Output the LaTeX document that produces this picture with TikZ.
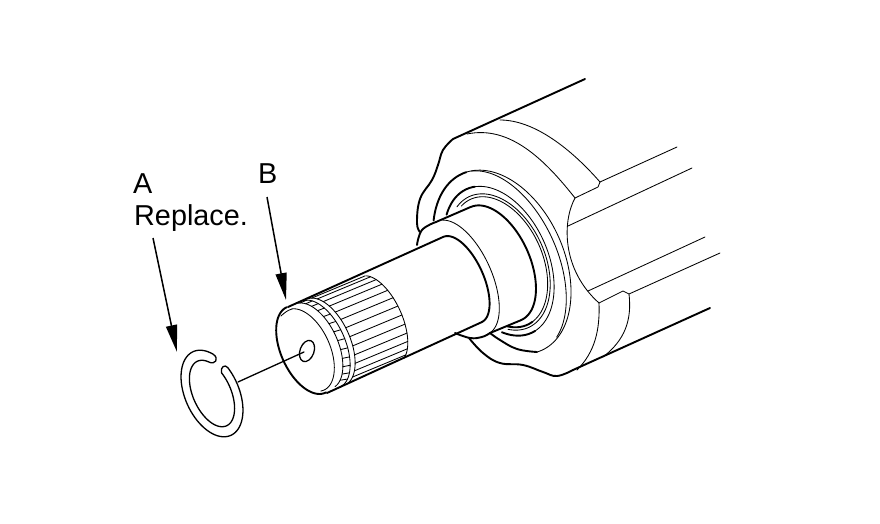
\documentclass[tikz,border=0pt]{standalone}
\usepackage{fontspec}
\setmainfont{Liberation Sans}
\usetikzlibrary{arrows.meta}
\tikzset{
  hv/.style={line width=1.9pt,line cap=round,line join=round},
  md/.style={line width=1.3pt,line cap=round,line join=round},
  tn/.style={line width=0.85pt,line cap=round,line join=round},
  sm/.style={smooth,tension=0.7},
  lbl/.style={inner sep=0pt,anchor=base west,font=\fontsize{28.8}{28.8}\selectfont},
  leader/.style={line width=1.5pt,-{Triangle[length=27pt,width=11pt]}}
}
% \earc{style}{cx}{cy}{a}{b}{t0}{t1}: arc of a tilted ellipse
\newcommand{\earc}[7]{\draw[#1] plot[domain=#6:#7,samples=70,variable=\t,smooth]
  ({#2+(#4)*cos(\t)*0.41+(#5)*sin(\t)*0.91},{#3+(#4)*cos(\t)*0.91-(#5)*sin(\t)*0.41});}
\begin{document}
\begin{tikzpicture}[x=1pt,y=-1pt]
\useasboundingbox[fill=white] (0,0) rectangle (880,524);
% labels
\node[lbl] (la) at (133,193) {A};
\node[lbl] (lr) at (134,225) {Replace.};
\node[lbl] (lb) at (258,183) {B};
\coordinate (afrom) at (153,238);
\coordinate (ato) at (177,352);
\coordinate (bfrom) at (267,197);
\coordinate (bto) at (286,300);
\draw[leader] (afrom) -- (ato);
\draw[leader] (bfrom) -- (bto);
% ring
\earc{md}{212}{393.5}{46}{27}{140}{472}
\earc{md}{212}{393.5}{35.5}{19}{150}{475}
\draw[md] (227.7,367.5) .. controls (225,364) and (220,367) .. (221.5,372.8);
\draw[md] (213.4,354.4) .. controls (219,358) and (216,366) .. (208,361.6);
% centre line
\coordinate (cl1) at (238,382);
\coordinate (cl2) at (304,352);
\draw[md] (cl1) -- (cl2);
\draw[md,rotate around={-20:(307,351)}] (307,351) ellipse[x radius=7,y radius=11];
% spline end
\earc{hv}{306}{350}{47}{25}{180}{362}
\earc{tn}{306}{350}{44}{24}{170}{-8}
\draw[tn] (281,316) .. controls (284,313) and (288,310) .. (292,309);
\earc{tn}{314}{346}{46}{24}{172}{6}
\earc{tn}{321}{344}{47}{24}{175}{2}
\earc{tn}{326}{342}{47}{24}{178}{10}
\earc{tn}{380}{319.5}{47}{22}{165}{15}
\draw[hv] (288,307) -- (443,237);
\draw[hv] (327,393) -- (482,322);
\foreach \t in {168,156,...,18}{
  \draw[tn] ({326+47*cos(\t)*0.41+24*sin(\t)*0.91},{342+47*cos(\t)*0.91-24*sin(\t)*0.41})
    -- ({380+47*cos(\t)*0.41+22*sin(\t)*0.91},{319.5+47*cos(\t)*0.91-22*sin(\t)*0.41});
  \draw[tn] ({314+46*cos(\t)*0.41+24*sin(\t)*0.91},{346+46*cos(\t)*0.91-24*sin(\t)*0.41})
    -- ({321+47*cos(\t)*0.41+24*sin(\t)*0.91},{344+47*cos(\t)*0.91-24*sin(\t)*0.41});
}
% shaft step
\earc{hv}{462.5}{279.5}{46.8}{21}{180}{0}
% collar
\draw[hv] plot[sm] coordinates {(417,245) (422,230) (436,222)};
\earc{tn}{463}{277.5}{61.7}{28.6}{170}{0}
\draw[hv] plot[sm] coordinates {(455,333) (470,338) (482,337) (490,333)};
% thick inner step
\draw[hv] (436,222) -- (470.6,207);
\earc{hv}{496}{263.5}{62}{33.9}{180}{0}
\draw[hv] (490,333) -- (521.4,320);
% rings
\earc{hv}{502}{262}{97}{62}{227}{176}
\earc{tn}{502}{262}{97}{62}{176}{-5}
\draw[hv] plot[sm] coordinates {(537,352) (517,349) (500,340) (490,333)};
\earc{tn}{502}{262}{97}{55.5}{170}{20}
\earc{hv}{499}{261}{79}{49}{216}{170}
\earc{tn}{499}{261}{79}{49}{170}{5}
\earc{hv}{499}{261}{79}{49}{5}{-33}
\earc{tn}{499}{262}{72}{46}{200}{-25}
\earc{tn}{499}{262}{69}{43.5}{195}{8}
\earc{hv}{499}{262}{69}{43.5}{8}{-26}
% body outline
\draw[hv] (585,79) -- (453,139);
\draw[hv] plot[sm] coordinates {(453,139) (443,150) (438,165) (432,180) (420,199) (417,223) (420,232)};
\draw[hv] plot[sm] coordinates {(469,338) (483,353) (500,363) (523,365) (543,372) (557,376) (573,370)};
\draw[hv] (573,370) -- (710,308);
% flange arcs
\draw[tn] (500,120) .. controls (535,120) and (572,150) .. (600,182);
\draw[tn] (467,134) .. controls (510,125) and (545,160) .. (575,198);
\draw[tn] (600,182) -- (677,147);
\draw[tn] (600,182) -- (598,187) -- (575,198);
\draw[tn] (568,226) -- (692,168);
\draw[tn] (575,198) .. controls (562,222) and (562,270) .. (599,303);
\draw[tn] (599,303) -- (623,291) -- (629,294) -- (720,253);
\draw[tn] (588,291) -- (705,237);
\draw[tn] (599,303) .. controls (600,330) and (595,352) .. (577,370);
\draw[tn] (629,294) .. controls (632,320) and (625,340) .. (603,357);
\end{tikzpicture}
\end{document}
